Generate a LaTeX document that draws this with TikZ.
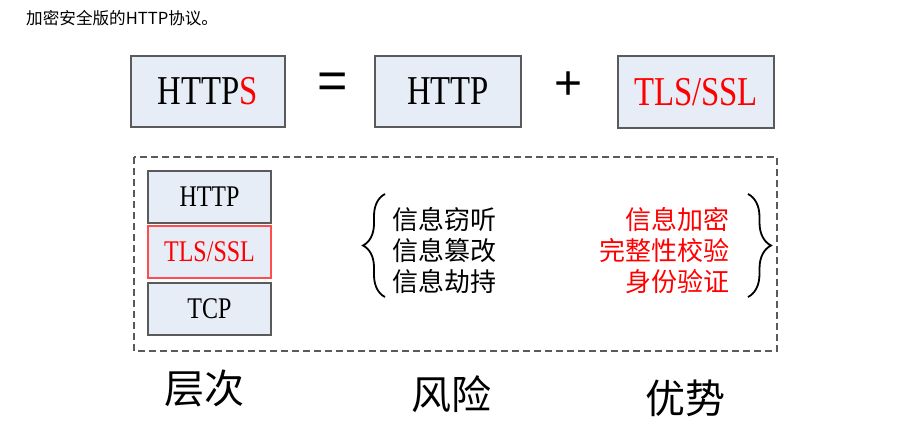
\documentclass[tikz,border=0pt]{standalone}
\usepackage{fontspec}
\usetikzlibrary{decorations.pathreplacing}
\newfontfamily\cjk{Noto Sans CJK SC}
\newfontfamily\serifc[FakeStretch=0.8]{Liberation Serif}
\newfontfamily\symf{Liberation Sans}
\definecolor{boxfill}{HTML}{E7EDF7}
\definecolor{boxline}{HTML}{5A5A5A}
\definecolor{myred}{HTML}{FF0000}
\tikzset{
  bigbox/.style={draw=boxline, line width=1.2pt, fill=boxfill, inner sep=0pt, font=\serifc\fontsize{41}{41}\selectfont},
  stackbox/.style={draw=boxline, line width=1.2pt, fill=boxfill, inner sep=0pt, minimum width=123pt, minimum height=52pt, font=\serifc\fontsize{30}{30}\selectfont},
  risk/.style={font=\cjk\fontsize{26}{26}\selectfont, anchor=west, inner sep=0pt},
  good/.style={font=\cjk\fontsize{26}{26}\selectfont, anchor=east, inner sep=0pt, text=myred},
  label/.style={font=\cjk\fontsize{40}{40}\selectfont, inner sep=0pt},
  bracestyle/.style={line width=1.8pt, decorate},
}
\begin{document}
\begin{tikzpicture}[x=1pt, y=-1pt]
\useasboundingbox (0,0) rectangle (909,433);
\node[font=\cjk\fontsize{16.6}{16.6}\selectfont, anchor=west, inner sep=0pt] (cap) at (26,18) {加密安全版的HTTP协议。};
% top equation
\node[bigbox, minimum width=154pt, minimum height=71pt] (https) at (208,91.5) {HTTP\textcolor{myred}{S}};
\node[font=\symf\fontsize{52}{52}\selectfont, inner sep=0pt] (eq) at (333,86) {=};
\node[bigbox, minimum width=146pt, minimum height=71pt] (http) at (448,91.5) {HTTP};
\node[font=\symf\fontsize{48}{48}\selectfont, inner sep=0pt] (plus) at (569,86) {+};
\node[bigbox, minimum width=156pt, minimum height=72pt, text=myred] (tls) at (696,92) {TLS/SSL};
% dashed frame
\draw[boxline, line width=1.4pt, dash pattern=on 7pt off 4pt] (134,157) rectangle (777,351);
% stack
\node[stackbox] (s1) at (209.5,197) {HTTP};
\node[stackbox, draw=myred!70, text=myred] (s2) at (209.5,252) {TLS/SSL};
\node[stackbox] (s3) at (209.5,309) {TCP};
% risks
\node[risk] (r1) at (392,220) {信息窃听};
\node[risk] (r2) at (392,251) {信息篡改};
\node[risk] (r3) at (392,282) {信息劫持};
\coordinate (lbT) at (385,194);
\coordinate (lbB) at (385,297);
\draw[bracestyle, decoration={brace, amplitude=22pt}] (lbB) -- (lbT);
% advantages
\node[good] (g1) at (730,220) {信息加密};
\node[good] (g2) at (730,251) {完整性校验};
\node[good] (g3) at (730,282) {身份验证};
\coordinate (rbT) at (748,194);
\coordinate (rbB) at (748,297);
\draw[bracestyle, decoration={brace, amplitude=23pt}] (rbT) -- (rbB);
% labels
\node[label] (l1) at (204,388) {层次};
\node[label] (l2) at (451,394) {风险};
\node[label] (l3) at (685,398) {优势};
\end{tikzpicture}
\end{document}
